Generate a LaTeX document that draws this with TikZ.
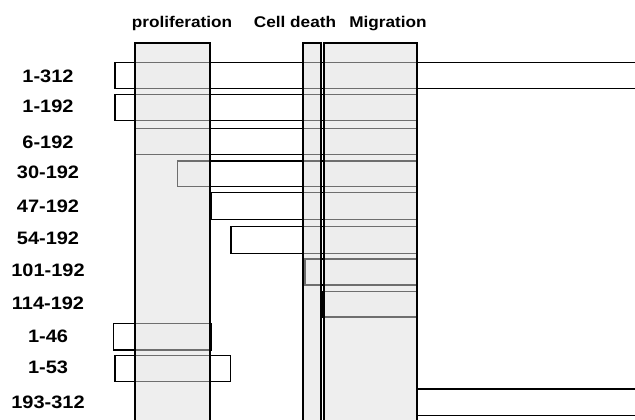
\documentclass[tikz,border=0pt]{standalone}
\usepackage{fontspec}
\setmainfont{Liberation Sans}
\begin{document}
\begin{tikzpicture}[x=1pt,y=-1pt,
  bar/.style={draw=black,line width=1.4pt,fill=white},
  column/.style={draw=black,line width=2pt,fill={rgb,255:red,221;green,221;blue,221},fill opacity=0.5,draw opacity=1},
  rowlabel/.style={font=\bfseries\fontsize{18}{20}\selectfont,xscale=1.11,anchor=base,inner sep=0pt},
  header/.style={font=\bfseries\fontsize{15.5}{18}\selectfont,xscale=1.11,anchor=base,inner sep=0pt}]
\useasboundingbox (0,0) rectangle (635,420);
\clip (0,0) rectangle (635,420);
% bars
\draw[bar] (115,62.7) rectangle (640,88.3);
\draw[bar] (115,94.3) rectangle (417,120.7);
\draw[bar] (135,128.3) rectangle (417,154.3);
\draw[bar] (177.7,161) rectangle (417,186.7);
\draw[bar] (211,192.3) rectangle (417,219.3);
\draw[bar] (231,226.7) rectangle (417,253.3);
\draw[bar] (305,259) rectangle (417,285);
\draw[bar] (322.3,291.5) rectangle (417,317);
\draw[bar] (113.5,323.3) rectangle (211,350);
\draw[bar] (115,355.7) rectangle (230.7,381.3);
\draw[bar] (417,389) rectangle (640,415.7);
% columns
\draw[column] (134.5,43.5) rectangle (210,430);
\draw[column] (302.5,43.5) rectangle (321,430);
\draw[column] (323.7,43.5) rectangle (416.7,430);
% headers
\node[header] (hprol) at (182,28) {proliferation};
\node[header] (hdeath) at (295,28) {Cell death};
\node[header] (hmig) at (388,28) {Migration};
% row labels
\node[rowlabel] (l1) at (48,83) {1-312};
\node[rowlabel] (l2) at (48,113) {1-192};
\node[rowlabel] (l3) at (48,148) {6-192};
\node[rowlabel] (l4) at (48,178) {30-192};
\node[rowlabel] (l5) at (48,212) {47-192};
\node[rowlabel] (l6) at (48,244.5) {54-192};
\node[rowlabel] (l7) at (48,276.5) {101-192};
\node[rowlabel] (l8) at (48,309.5) {114-192};
\node[rowlabel] (l9) at (48,342) {1-46};
\node[rowlabel] (l10) at (48,373.5) {1-53};
\node[rowlabel] (l11) at (48,408.5) {193-312};
\end{tikzpicture}
\end{document}
